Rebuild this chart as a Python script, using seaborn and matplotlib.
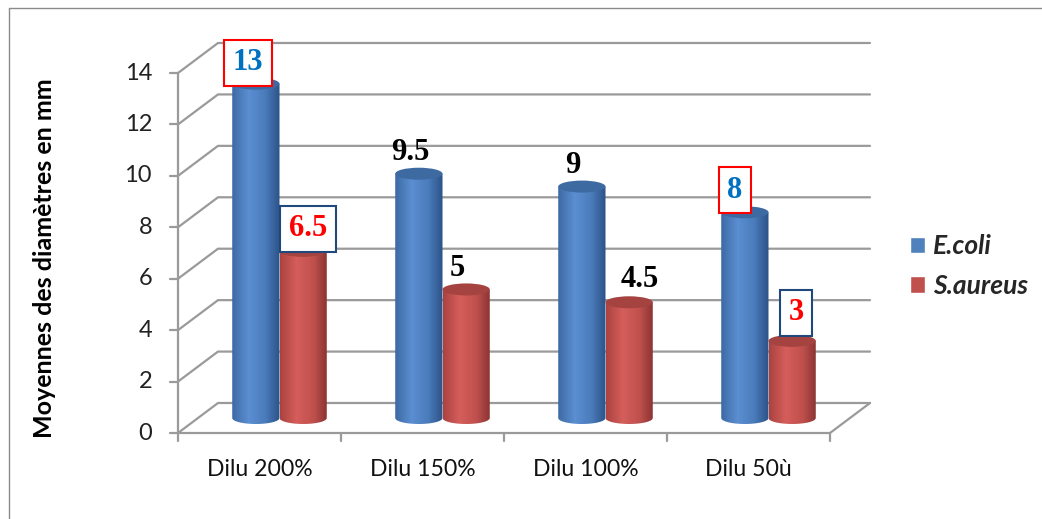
import numpy as np
import pandas as pd
import matplotlib
matplotlib.use("Agg")
import matplotlib.pyplot as plt
import seaborn as sns
from matplotlib.patches import Ellipse, PathPatch, Patch
from matplotlib.path import Path
from matplotlib.colors import LinearSegmentedColormap
from matplotlib.lines import Line2D

# Data
dilutions = ["Dilu 200%", "Dilu 150%", "Dilu 100%", "Dilu 50ù"]
strains = ["E.coli", "S.aureus"]
ecoli = [13, 9.5, 9, 8]
saureus = [6.5, 5, 4.5, 3]
yticks = [0, 2, 4, 6, 8, 10, 12, 14]

df = pd.DataFrame({
    "dilution": dilutions * 2,
    "souche": [strains[0]] * len(dilutions) + [strains[1]] * len(dilutions),
    "value": ecoli + saureus,
})

# Label styles (E.coli bars first, then S.aureus)
label_colors = ["#0070c0", "black", "black", "#0070c0", "red", "black", "black", "red"]
label_boxes = ["red", None, None, "red", "#1f497d", None, None, "#1f497d"]
label_dx = [-8, -9, -9, -10, 5, -9, 11, 4]
label_dy = [21, 21, 21, 22, 22, 21, 23, 28]

sns.set_style("white")
plt.rcParams["font.family"] = ["Lato", "DejaVu Sans"]

W, H = 1042, 519
fig = plt.figure(figsize=(W / 100, H / 100), dpi=100)
ax = fig.add_axes([198 / W, 101 / H, 652 / W, 360 / H])

blue, red = "#4f81bd", "#c0504d"
sns.barplot(data=df, x="dilution", y="value", hue="souche", palette=[blue, red],
            width=0.58, saturation=1, legend=False, ax=ax)
ax.set_xlim(-0.5, 3.5)
ax.set_ylim(0, 14)
ax.axis("off")

# pixel sizes in data units
p0 = ax.transData.transform((0, 0))
p1 = ax.transData.transform((1, 1))
sx, sy = p1[0] - p0[0], p1[1] - p0[1]
ddx, ddy = 20 / sx, 15 / sy
x0, x1 = -0.5, 3.5

# 3D-ish walls and grid
grid_kw = dict(color="#9a9a9a", lw=1.6, clip_on=False, zorder=1)
for v in yticks:
    ax.plot([x0 - ddx, x0 + ddx, x1 + ddx], [v - ddy, v + ddy, v + ddy], **grid_kw)
ax.plot([x0 - ddx, x1 - ddx, x1 + ddx], [-ddy, -ddy, ddy], **grid_kw)
ax.plot([x0 - ddx, x0 - ddx], [-ddy, yticks[-1] - ddy], **grid_kw)

# front ticks and tick labels
for v in yticks:
    ax.plot([x0 - ddx - 8 / sx, x0 - ddx], [v - ddy, v - ddy], **grid_kw)
    ax.text(x0 - ddx - 26 / sx, v - ddy, str(v), ha="right", va="center",
            fontsize=17, color="#222222")
for i in range(len(dilutions) + 1):
    ax.plot([x0 + i - ddx, x0 + i - ddx], [-ddy, -ddy - 8 / sy], **grid_kw)
for i, lab in enumerate(dilutions):
    ax.text(i - ddx, -ddy - 36 / sy, lab, ha="center", va="center",
            fontsize=16.6, color="#111111")

# cylinders
cmaps = {
    blue: LinearSegmentedColormap.from_list(
        "b", [(0, "#3d69a3"), (0.35, "#5b8fd2"), (0.7, "#4a7bbb"), (1, "#2c5287")]),
    red: LinearSegmentedColormap.from_list(
        "r", [(0, "#aa423f"), (0.35, "#d55e5b"), (0.7, "#c0504d"), (1, "#873331")]),
}
tops = {blue: "#3e6aa2", red: "#a4433f"}
eh = 12 / sy
grad = np.linspace(0, 1, 256).reshape(1, -1)
rects = list(ax.patches)
for k, rect in enumerate(rects):
    x, w, h = rect.get_x(), rect.get_width(), rect.get_height()
    rect.set_visible(False)
    col = blue if k < len(dilutions) else red
    t = np.linspace(np.pi, 2 * np.pi, 40)
    verts = [(x, h)] + [(x + w / 2 + w / 2 * np.cos(a), eh / 2 * np.sin(a)) for a in t] + [(x + w, h), (x, h)]
    body = PathPatch(Path(verts, closed=True), fc="none", ec="none", transform=ax.transData)
    ax.add_patch(body)
    im = ax.imshow(grad, extent=[x, x + w, -eh, h], aspect="auto", cmap=cmaps[col],
                   zorder=3 + k // 4)
    im.set_clip_path(body)
    im.set_clip_box(fig.bbox)
    ax.add_patch(Ellipse((x + w / 2, h), w, eh, fc=tops[col], ec="none",
                         zorder=3.5 + k // 4, clip_on=False))
    box = None
    if label_boxes[k]:
        box = dict(boxstyle="square,pad=0.28", fc="white", ec=label_boxes[k], lw=1.5)
    ax.annotate(f"{h:g}", (x + w / 2, h), xytext=(label_dx[k], label_dy[k]),
                textcoords="offset pixels", ha="center", va="center",
                fontsize=22, fontweight="bold", family="Liberation Serif",
                color=label_colors[k], bbox=box, zorder=6, annotation_clip=False)

ax.set_xlim(-0.5, 3.5)
ax.set_ylim(0, 14)

# axis title
fig.text(45 / W, 1 - 258 / H, "Moyennes des diamètres en mm", rotation=90,
         ha="center", va="center", fontsize=18, fontweight="bold", color="black")

# legend
fig.legend(handles=[Patch(fc=blue), Patch(fc=red)], labels=strains,
           loc="center left", bbox_to_anchor=(910 / W, 1 - 266 / H), frameon=False,
           borderpad=0, borderaxespad=0,
           prop=dict(family="Lato", weight="bold", style="italic", size=19),
           handlelength=0.57, handleheight=0.57, labelspacing=0.6, handletextpad=0.3)

# chart border
fig.add_artist(Line2D([8.5 / W, 8.5 / W], [0, 1 - 7.5 / H], color="#8a8a8a", lw=1))
fig.add_artist(Line2D([8.5 / W, 1], [1 - 7.5 / H, 1 - 7.5 / H], color="#8a8a8a", lw=1))

fig.savefig("out.png", dpi=100)
